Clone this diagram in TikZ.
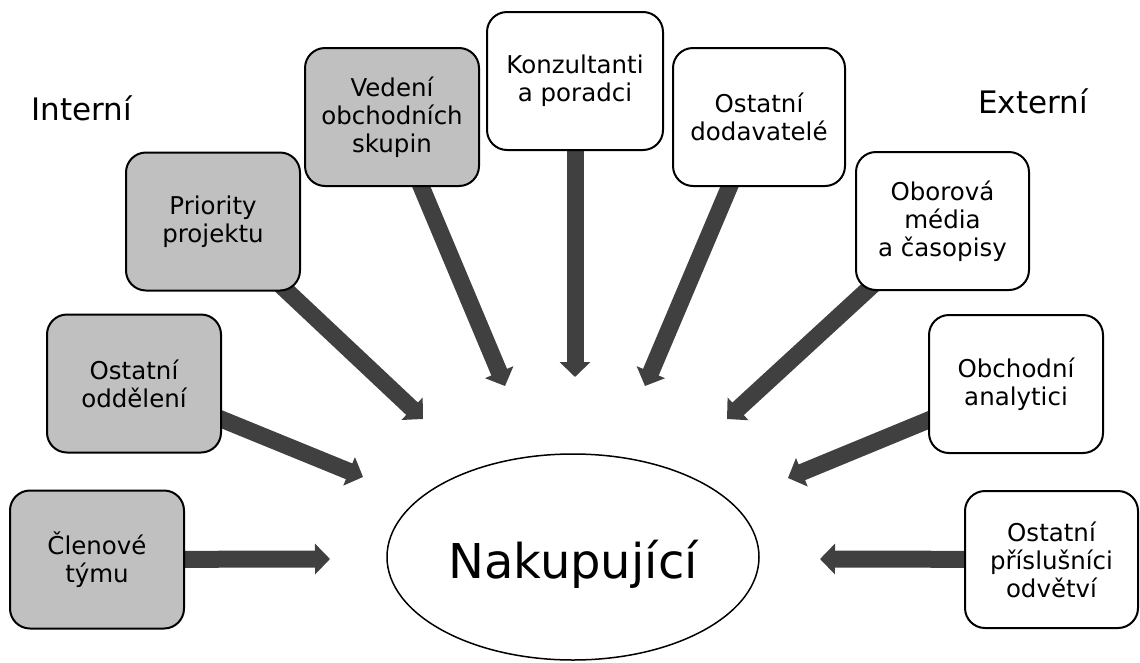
\documentclass[tikz,border=0pt]{standalone}
\usepackage{fontspec}
\setmainfont{DejaVu Sans}
\usetikzlibrary{arrows.meta,backgrounds,shapes.geometric}
\definecolor{boxgray}{HTML}{C0C0C0}
\definecolor{arrowgray}{HTML}{404040}
\begin{document}
\begin{tikzpicture}[x=1pt,y=-1pt,
  box/.style={draw=black, line width=2pt, rounded corners=20pt,
    minimum width=174pt, minimum height=138pt, align=center,
    font=\fontsize{24.5}{28}\selectfont, inner sep=0pt},
  intern/.style={box, fill=boxgray},
  extern/.style={box, fill=white},
  flow/.style={line width=17pt, draw=arrowgray, -{Triangle[length=15pt,width=30pt]}},
  side/.style={font=\fontsize{31}{36}\selectfont, inner sep=0pt}]
\useasboundingbox (0,0) rectangle (1140,662);

% side labels
\node[side] (int) at (82,108) {Interní};
\node[side] (ext) at (1033,101) {Externí};

% internal boxes
\node[intern] (clen) at (97,559.5) {Členové\\týmu};
\node[intern] (odd) at (134,383.5) {Ostatní\\oddělení};
\node[intern] (pri) at (213,221.5) {Priority\\projektu};
\node[intern] (ved) at (392,117) {Vedení\\obchodních\\skupin};

% external boxes
\node[extern, minimum width=176pt] (kon) at (575,81) {Konzultanti\\a poradci};
\node[extern, minimum width=172pt] (dod) at (759,117) {Ostatní\\dodavatelé};
\node[extern, minimum width=173pt] (obo) at (942.5,221) {Oborová\\média\\a časopisy};
\node[extern] (obch) at (1016,384) {Obchodní\\analytici};
\node[extern, minimum width=173pt, minimum height=137pt] (pris) at (1051.5,559.5) {Ostatní\\příslušníci\\odvětví};

% center
\node[ellipse, draw=black, line width=1.5pt, minimum width=372pt, minimum height=206pt,
  inner sep=0pt, font=\fontsize{48}{56}\selectfont] (buy) at (573,557)
  {\raisebox{-21pt}[0pt][0pt]{Nakupující}};

% arrow tips
\coordinate (tclen) at (330,559);
\coordinate (todd) at (363,477);
\coordinate (tpri) at (423,419);
\coordinate (tved) at (505,386);
\coordinate (tkon) at (575,377);
\coordinate (tdod) at (645,386);
\coordinate (tobo) at (727,419);
\coordinate (tobch) at (788,478);
\coordinate (tpris) at (820,559);

\begin{pgfonlayer}{background}
\foreach \s in {clen,odd,pri,ved,kon,dod,obo,obch,pris}
  \draw[flow] (\s.center) -- (t\s);
\end{pgfonlayer}
\end{tikzpicture}
\end{document}
